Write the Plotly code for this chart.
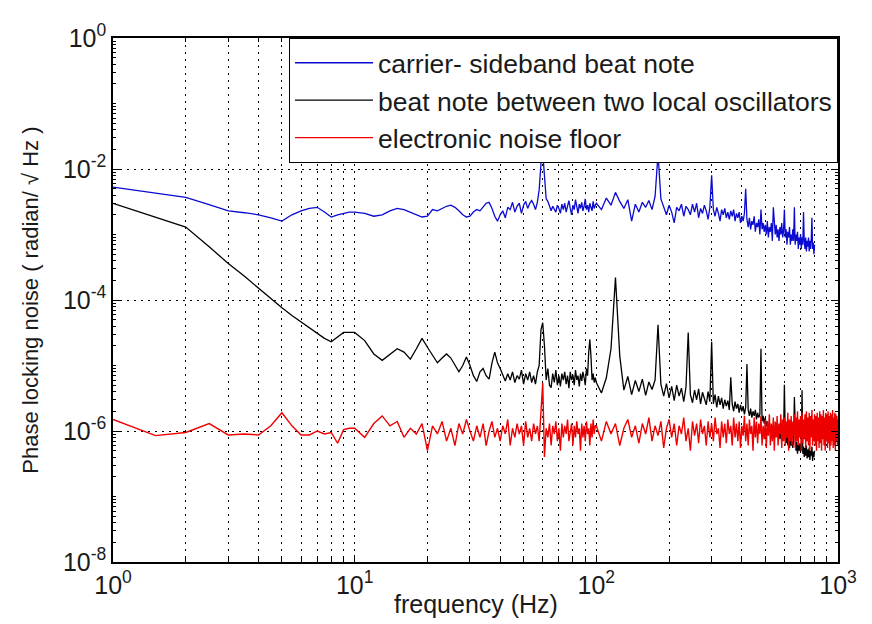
import plotly.graph_objects as go

# ---------------- data ----------------
freq_low = [1, 1.5, 2, 2.5, 3, 3.5, 4, 4.5, 5, 5.5, 6, 6.5, 7, 7.5, 8, 8.5, 9, 9.5]
freq_mid = list(range(10, 100))            # 1 Hz bins
freq_high = list(range(100, 805, 5))       # 5 Hz bins up to 800 Hz
freq_red_ext = list(range(805, 1005, 5))   # noise floor continues to 1 kHz

# carrier-sideband beat note, units of 1e-3 rad/sqrt(Hz)
blue_low = [5.3, 4.35, 3.7, 2.85, 2.3, 2.15, 2.0, 1.8, 1.6, 2.0, 2.3, 2.5, 2.6, 2.2, 1.85, 2.0, 2.1, 2.2]
blue_mid = [2.2, 2.1, 1.9, 2.0, 2.3, 2.5, 2.4, 2.2, 2.0, 1.85,
            1.9, 2.4, 2.3, 2.5, 2.7, 2.8, 2.6, 2.3, 2.0, 1.85,
            1.9, 2.2, 2.4, 2.3, 2.6, 3.0, 3.1, 2.5, 1.9, 1.6,
            2.0, 2.3, 1.8, 2.6, 2.4, 3.1, 2.2, 2.7, 3.0, 2.1,
            2.8, 3.2, 2.5, 3.0, 3.3, 2.9, 2.4, 3.1, 4.8, 12.0,
            18.0, 9.0, 3.5, 3.2, 2.6, 2.3, 2.7, 2.4, 2.2, 2.8,
            2.5, 2.1, 2.9, 2.4, 3.0, 2.2, 2.7, 3.3, 2.5, 2.0,
            2.8, 2.4, 3.4, 2.6, 2.1, 2.9, 2.5, 3.1, 2.3, 2.7,
            3.5, 2.4, 2.8, 2.2, 3.0, 2.6, 2.3, 3.2, 2.5, 2.8]
blue_high = [3.0, 2.4, 3.6, 2.8, 4.4, 3.2, 2.5, 3.4, 1.6, 2.9,
             2.2, 3.1, 2.6, 3.3, 2.4, 3.8, 17.0, 3.5, 2.6, 2.0,
             2.8, 2.2, 1.5, 2.6, 2.3, 2.9, 1.9, 2.7, 2.4, 2.0,
             2.9, 2.2, 3.0, 1.8, 2.5, 2.1, 2.8, 2.3, 1.7, 2.6,
             8.0, 2.4, 1.9, 2.6, 2.1, 1.6, 2.4, 2.0, 2.5, 1.8,
             2.2, 1.7, 2.3, 1.9, 2.4, 1.6, 2.1, 1.8, 2.2, 1.5,
             1.9, 1.6, 2.1, 5.0, 1.7, 1.3, 1.8, 1.2, 1.6, 1.4,
             1.9, 1.1, 1.5, 1.3, 1.7, 1.0, 2.4, 1.2, 1.5, 1.1,
             1.4, 1.0, 1.6, 0.9, 1.3, 1.1, 1.5, 0.8, 2.6, 1.2,
             1.0, 1.4, 0.9, 1.2, 0.8, 1.3, 1.0, 1.5, 0.9, 1.1,
             2.4, 0.9, 1.2, 0.7, 1.1, 0.9, 1.3, 0.7, 1.0, 0.8,
             1.2, 0.8, 2.6, 0.7, 1.0, 0.8, 1.1, 0.6, 0.9, 0.7,
             1.0, 0.6, 0.9, 0.7, 2.2, 0.8, 0.6, 0.9, 0.55, 0.8,
             0.65, 0.9, 0.55, 0.8, 0.6, 0.85, 1.8, 0.6, 0.75, 0.5,
             0.7]

# beat note between two local oscillators, units of 1e-6 rad/sqrt(Hz)
black_low = [3000, 1850, 1300, 650, 360, 230, 150, 105, 76, 58, 46, 38, 31, 26, 23, 27, 32, 32]
black_mid = [32, 24, 15, 12, 15, 18, 16, 12.5, 18, 26,
             19, 14, 11, 13, 15, 13, 10, 8, 10, 13.5,
             10, 7, 5.7, 8, 9, 7, 6.2, 11, 16, 11,
             9, 7, 5.8, 7.5, 6, 8, 5.5, 7, 6.2, 8.5,
             5.2, 7.5, 6, 8, 5.5, 7, 5.2, 8, 10, 35,
             45, 20, 6, 9, 5, 4.6, 7.5, 5.5, 8.5, 5,
             7, 4.8, 7.5, 6, 8, 5.2, 7, 4.5, 8, 6,
             7.2, 5, 8.5, 6, 7, 4.8, 7.5, 5.8, 8, 6.5,
             5, 9, 7, 16, 25, 14, 6, 7.5, 5.5, 6.5]
black_high = [5.5, 3.8, 6.5, 18, 220, 14, 4.2, 6.8, 3.6, 5.9,
              4.0, 6.2, 3.5, 5.6, 4.3, 6.0, 42, 5.2, 3.4, 5.3,
              3.2, 4.8, 2.9, 5.0, 3.4, 4.5, 2.8, 4.7, 32, 3.6,
              2.7, 4.2, 3.0, 4.4, 2.6, 3.9, 3.1, 2.5, 4.0, 2.8,
              23, 2.6, 3.6, 2.3, 3.4, 2.5, 3.2, 2.2, 3.0, 2.4,
              2.9, 2.1, 6.6, 2.6, 2.0, 2.8, 2.2, 2.6, 1.9, 2.5,
              2.0, 2.4, 1.8, 2.3, 10.5, 2.1, 1.7, 2.2, 1.6, 2.0,
              1.7, 2.1, 1.5, 1.9, 1.6, 1.8, 18, 1.4, 1.7, 1.3,
              1.6, 1.2, 1.4, 1.1, 1.3, 1.0, 1.2, 0.95, 1.25, 0.9,
              1.1, 0.85, 1.0, 0.8, 0.95, 0.75, 1.05, 0.7, 0.9, 0.75,
              5.1, 0.8, 0.65, 0.85, 0.6, 0.8, 0.55, 0.75, 0.6, 0.7,
              0.55, 0.72, 3.3, 0.6, 0.5, 0.68, 0.45, 0.62, 0.5, 0.65,
              0.48, 0.6, 4.2, 0.45, 0.58, 0.4, 0.55, 0.42, 0.6, 0.38,
              0.52, 0.4, 0.56, 0.36, 0.5, 0.42, 0.58, 0.35, 0.48, 0.4,
              0.5]

# electronic noise floor, units of 1e-6 rad/sqrt(Hz)
red_low = [1.5, 0.85, 0.95, 1.3, 0.87, 0.9, 0.87, 1.2, 1.9, 1.2, 0.87, 0.87, 1.0, 0.9, 0.95, 0.65, 1.05, 1.1]
red_mid = [1.1, 0.8, 1.3, 1.7, 1.2, 1.4, 0.8, 1.1, 0.9, 1.3,
           0.5, 1.2, 0.9, 1.4, 0.7, 1.1, 0.6, 1.3, 0.9, 1.5,
           1.0, 0.7, 1.2, 0.8, 1.3, 0.6, 1.0, 1.4, 0.8, 1.1,
           0.7, 1.2, 0.9, 1.5, 0.6, 1.1, 0.8, 1.3, 0.9, 1.2,
           0.6, 1.4, 0.8, 1.1, 0.7, 1.3, 0.9, 1.2, 0.7, 2.0,
           5.4, 0.4, 1.1, 0.8, 1.3, 0.6, 1.2, 0.9, 1.4, 0.7,
           1.1, 0.5, 1.3, 0.8, 1.2, 0.9, 1.5, 0.7, 1.0, 1.3,
           0.6, 1.2, 0.8, 1.4, 0.9, 1.1, 0.5, 1.3, 0.8, 1.2,
           0.7, 1.4, 0.9, 1.1, 0.6, 1.3, 0.8, 1.5, 0.9, 1.2]
red_high = [1.2, 0.7, 1.4, 0.9, 1.3, 0.6, 1.1, 1.5, 0.8, 1.2,
            0.65, 1.3, 0.9, 1.6, 0.7, 1.2, 0.85, 1.4, 0.55, 1.1,
            1.5, 0.8, 1.3, 0.6, 1.2, 0.9, 1.6, 0.7, 1.1, 0.5,
            1.4, 0.85, 1.3, 0.65, 1.5, 0.9, 1.2, 0.6, 1.4, 0.8,
            1.3, 0.7, 1.6, 0.9, 1.1, 0.55, 1.4, 0.8, 1.3, 0.65,
            1.5, 0.9, 1.2, 0.6, 1.6, 0.8, 1.3, 0.7, 1.4, 0.55,
            1.2, 0.85, 1.7, 0.7, 1.3, 0.6, 1.5, 0.9, 1.2, 0.5,
            1.6, 0.8, 1.4, 0.65, 1.3, 0.9, 1.7, 0.6, 1.2, 0.75,
            1.5, 0.55, 1.4, 0.85, 1.8, 0.6, 1.3, 0.7, 1.6, 0.5,
            1.4, 0.8, 1.7, 0.6, 1.3, 0.9, 1.8, 0.55, 1.5, 0.7,
            1.6, 0.6, 1.4, 0.8, 1.9, 0.5, 1.5, 0.7, 1.7, 0.6,
            1.4, 0.85, 1.8, 0.55, 1.6, 0.7, 2.0, 0.6, 1.5, 0.8,
            1.7, 0.5, 1.9, 0.65, 1.5, 0.75, 1.8, 0.55, 2.0, 0.7,
            1.6, 0.6, 1.9, 0.5, 1.7, 0.8, 2.1, 0.6, 1.5, 0.7,
            1.8]
red_ext = [0.6, 1.7, 0.5, 1.9, 0.7, 1.6, 0.55, 2.0, 0.65, 1.8,
           0.5, 1.7, 0.75, 2.1, 0.6, 1.6, 0.5, 1.9, 0.7, 1.8,
           0.55, 2.0, 0.65, 1.7, 0.5, 1.9, 0.6, 1.8, 0.7, 2.1,
           0.55, 1.6, 0.6, 1.9, 0.5, 1.8, 0.7, 1.7, 0.6, 1.5]

series_names = ["carrier- sideband beat note",
                "beat note between two local oscillators",
                "electronic noise floor"]
x_tick_vals = [1, 10, 100, 1000]
x_tick_text = ["10<sup>0</sup>", "10<sup>1</sup>", "10<sup>2</sup>", "10<sup>3</sup>"]
y_tick_vals = [1e-8, 1e-6, 1e-4, 1e-2, 1]
y_tick_text = ["10<sup>-8</sup>", "10<sup>-6</sup>", "10<sup>-4</sup>", "10<sup>-2</sup>", "10<sup>0</sup>"]
x_minor = [m * d for d in (1, 10, 100) for m in range(2, 10)]
y_minor = [m * 10.0 ** e for e in range(-8, 0) for m in range(1, 10) if not (m == 1 and e % 2 == 0)]

# ---------------- figure ----------------
f_bb = freq_low + freq_mid + freq_high
f_red = f_bb + freq_red_ext
blue = [v * 1e-3 for v in blue_low + blue_mid + blue_high]
black = [v * 1e-6 for v in black_low + black_mid + black_high]
red = [v * 1e-6 for v in red_low + red_mid + red_high + red_ext]

FONT = "Liberation Sans, Arial, sans-serif"
TXT = "#1a1a1a"

fig = go.Figure()
fig.add_trace(go.Scatter(x=f_bb, y=blue, mode="lines", name=series_names[0],
                         line=dict(color="#0a0ad0", width=1.3)))
fig.add_trace(go.Scatter(x=f_bb, y=black, mode="lines", name=series_names[1],
                         line=dict(color="#000000", width=1.3)))
fig.add_trace(go.Scatter(x=f_red, y=red, mode="lines", name=series_names[2],
                         line=dict(color="#ee0000", width=1.4)))

grid = dict(showgrid=True, gridcolor="black", gridwidth=1, griddash="2px,5px")

fig.update_xaxes(type="log", range=[0, 3], tickmode="array", tickvals=x_tick_vals,
                 ticktext=x_tick_text, ticks="inside", ticklen=7, tickcolor="black",
                 showline=True, linecolor="black", linewidth=1.5, mirror="ticks",
                 zeroline=False, tickfont=dict(family=FONT, size=25, color=TXT),
                 minor=dict(tickmode="array", tickvals=x_minor, ticks="inside", ticklen=4,
                            tickcolor="black", **grid),
                 **grid)
fig.update_yaxes(type="log", range=[-8, 0], tickmode="array", tickvals=y_tick_vals,
                 ticktext=y_tick_text, ticks="inside", ticklen=7, tickcolor="black",
                 showline=True, linecolor="black", linewidth=1.5, mirror="ticks",
                 zeroline=False, tickfont=dict(family=FONT, size=25, color=TXT),
                 minor=dict(tickmode="array", tickvals=y_minor, ticks="inside", ticklen=3,
                            tickcolor="black", showgrid=False),
                 **grid)

fig.add_annotation(text="frequency (Hz)", xref="paper", yref="paper", x=0.5, y=-0.08,
                   xanchor="center", yanchor="middle", showarrow=False,
                   font=dict(family=FONT, size=25, color=TXT))
fig.add_annotation(text="Phase locking noise ( radian/ √ Hz )", xref="paper", yref="paper",
                   x=-0.115, y=0.5, xanchor="center", yanchor="middle", textangle=-90,
                   showarrow=False, font=dict(family=FONT, size=22, color=TXT))

fig.update_layout(
    width=872, height=624,
    margin=dict(l=113, r=34, t=38, b=62),
    paper_bgcolor="white", plot_bgcolor="white",
    showlegend=True,
    legend=dict(x=1, y=1, xanchor="right", yanchor="top", bgcolor="white",
                bordercolor="black", borderwidth=1,
                font=dict(family=FONT, size=26.5, color=TXT),
                itemwidth=78, tracegroupgap=0),
)

fig.write_html("out.html")
